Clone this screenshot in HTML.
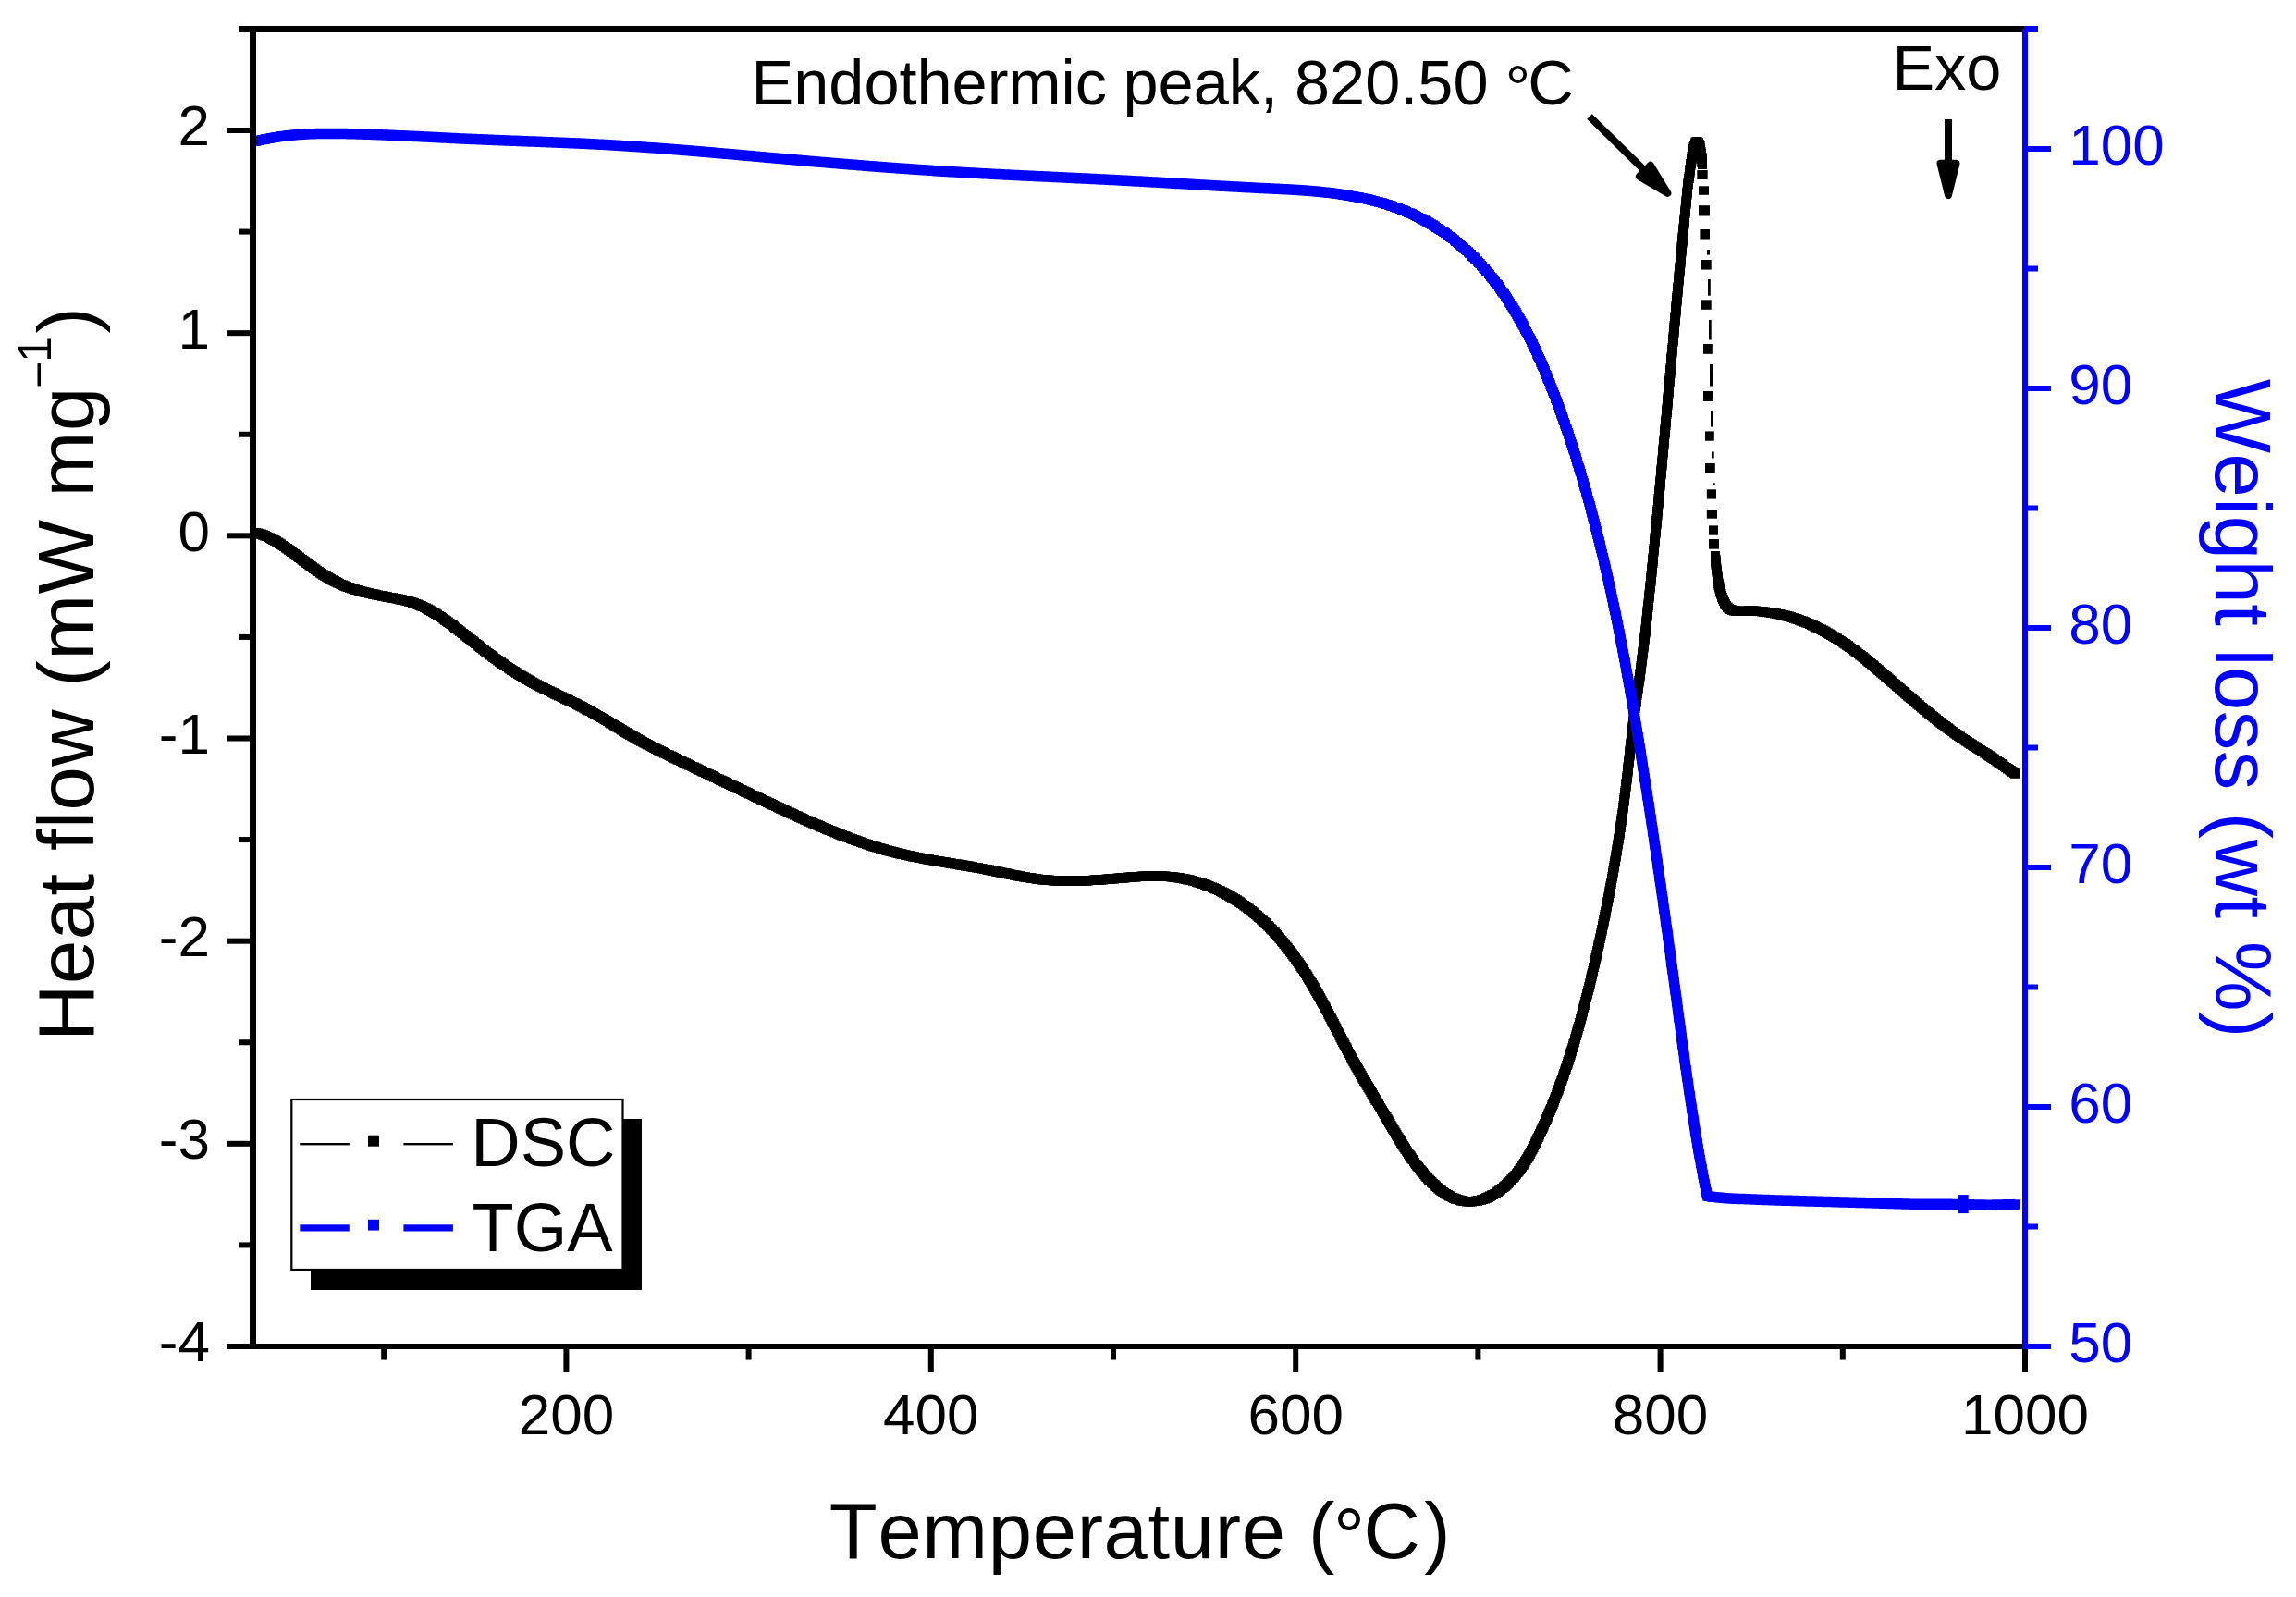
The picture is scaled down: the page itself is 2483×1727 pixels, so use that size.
<!DOCTYPE html>
<html lang="en"><head><meta charset="utf-8"><title>DSC / TGA</title>
<style>html,body{margin:0;padding:0;background:#fff}body{width:2483px;height:1727px;overflow:hidden}svg{display:block}text{font-family:"Liberation Sans",Arial,Helvetica,sans-serif;font-kerning:none}</style>
</head><body>
<svg width="2483" height="1727" viewBox="0 0 2483 1727">
<rect width="2483" height="1727" fill="#fff"/>
<defs>
<marker id="mk" markerUnits="userSpaceOnUse" markerWidth="10.6" markerHeight="10.6" refX="5.3" refY="5.3" orient="0"><rect width="10.6" height="10.6" fill="#000"/></marker>
<marker id="mb" markerUnits="userSpaceOnUse" markerWidth="10.4" markerHeight="10.4" refX="5.2" refY="5.2" orient="0"><rect width="10.4" height="10.4" fill="#0000ff"/></marker>
</defs>
<polyline points="277,576 279,576.75 280.75,577.25 282.75,577.75 284.5,578.5 286.5,579.25 288.25,580 290,581 292,581.75 293.75,582.75 295.5,583.75 297.25,584.5 299,585.5 300.75,586.75 302.25,587.75 304,588.75 305.75,590 307.25,591 309,592.25 310.75,593.25 312.25,594.5 314,595.5 315.5,596.75 317,598 318.75,599.25 320.25,600.5 322,601.5 323.5,602.75 325,604 326.75,605.25 328.25,606.5 330,607.5 331.5,608.75 333,610 334.75,611.25 336.25,612.25 338,613.5 339.5,614.75 341.25,615.75 342.75,617 344.5,618 346.25,619.25 347.75,620.25 349.5,621.5 351.25,622.5 353,623.5 354.75,624.5 356.25,625.5 358,626.5 359.75,627.5 361.75,628.5 363.5,629.25 365.25,630.25 367,631 368.75,632 370.75,632.75 372.5,633.5 374.5,634.25 376.25,635 378.25,635.5 380,636.25 382,636.75 383.75,637.5 385.75,638 387.75,638.5 389.5,639.25 391.5,639.75 393.5,640.25 395.5,640.75 397.25,641 399.25,641.5 401.25,642 403.25,642.5 405.25,642.75 407,643.25 409,643.75 411,644 413,644.5 415,644.75 417,645.25 419,645.5 420.75,646 422.75,646.25 424.75,646.5 426.75,647 428.75,647.25 430.75,647.75 432.5,648.25 434.5,648.5 436.5,649 438.5,649.5 440.5,650 442.25,650.5 444.25,651 446.25,651.75 448,652.25 450,653 451.75,653.75 453.75,654.5 455.5,655.25 457.25,656 459,657 461,657.75 462.75,658.75 464.5,659.75 466.25,660.75 468,661.75 469.75,662.75 471.25,663.75 473,664.75 474.75,666 476.5,667 478,668 479.75,669.25 481.25,670.5 483,671.5 484.5,672.75 486.25,674 487.75,675 489.5,676.25 491,677.5 492.5,678.75 494.25,680 495.75,681.25 497.25,682.5 499,683.75 500.5,685 502,686 503.5,687.25 505.25,688.5 506.75,689.75 508.25,691 509.75,692.25 511.5,693.5 513,694.75 514.5,696 516.25,697.25 517.75,698.5 519.25,699.75 520.75,701 522.5,702.25 524,703.5 525.5,704.75 527.25,706 528.75,707 530.25,708.25 532,709.5 533.5,710.75 535.25,712 536.75,713 538.5,714.25 540,715.5 541.75,716.5 543.25,717.75 545,718.75 546.5,720 548.25,721 550,722.25 551.5,723.25 553.25,724.5 555,725.5 556.75,726.5 558.25,727.5 560,728.75 561.75,729.75 563.5,730.75 565.25,731.75 567,732.75 568.5,733.75 570.25,734.75 572,735.75 573.75,736.75 575.5,737.75 577.25,738.75 579,739.75 580.75,740.5 582.5,741.5 584.5,742.5 586.25,743.25 588,744.25 589.75,745.25 591.5,746 593.25,747 595,747.75 597,748.75 598.75,749.5 600.5,750.5 602.25,751.25 604.25,752.25 606,753 607.75,753.75 609.5,754.75 611.25,755.5 613.25,756.5 615,757.25 616.75,758.25 618.5,759 620.5,760 622.25,760.75 624,761.75 625.75,762.5 627.5,763.5 629.25,764.25 631,765.25 632.75,766.25 634.5,767.25 636.5,768.25 638.25,769 640,770 641.5,771 643.25,772 645,773 646.75,774 648.5,775 650.25,776 652,777 653.75,778 655.5,779 657.25,780 659,781.25 660.5,782.25 662.25,783.25 664,784.25 665.75,785.25 667.5,786.25 669.25,787.25 671,788.25 672.5,789.25 674.25,790.5 676,791.5 677.75,792.5 679.5,793.5 681.25,794.5 683,795.5 684.75,796.5 686.5,797.5 688,798.5 689.75,799.5 691.5,800.5 693.25,801.5 695,802.25 696.75,803.25 698.75,804.25 700.5,805.25 702.25,806.25 704,807 705.75,808 707.5,808.75 709.25,809.75 711,810.75 712.75,811.5 714.75,812.5 716.5,813.25 718.25,814.25 720,815 721.75,816 723.75,816.75 725.5,817.75 727.25,818.5 729,819.5 730.75,820.25 732.75,821.25 734.5,822 736.25,823 738,823.75 739.75,824.75 741.75,825.5 743.5,826.5 745.25,827.25 747,828 748.75,829 750.75,829.75 752.5,830.75 754.25,831.5 756,832.5 758,833.25 759.75,834.25 761.5,835 763.25,836 765,836.75 767,837.5 768.75,838.5 770.5,839.25 772.25,840.25 774,841 776,842 777.75,842.75 779.5,843.75 781.25,844.5 783.25,845.25 785,846.25 786.75,847 788.5,848 790.25,848.75 792.25,849.75 794,850.5 795.75,851.25 797.5,852.25 799.5,853 801.25,854 803,854.75 804.75,855.75 806.5,856.5 808.5,857.25 810.25,858.25 812,859 813.75,860 815.75,860.75 817.5,861.75 819.25,862.5 821,863.25 823,864.25 824.75,865 826.5,866 828.25,866.75 830,867.75 832,868.5 833.75,869.25 835.5,870.25 837.25,871 839.25,872 841,872.75 842.75,873.5 844.5,874.5 846.5,875.25 848.25,876.25 850,877 851.75,877.75 853.75,878.75 855.5,879.5 857.25,880.25 859,881.25 861,882 862.75,882.75 864.5,883.75 866.5,884.5 868.25,885.25 870,886.25 871.75,887 873.75,887.75 875.5,888.5 877.25,889.25 879.25,890.25 881,891 882.75,891.75 884.75,892.5 886.5,893.25 888.25,894.25 890.25,895 892,895.75 894,896.5 895.75,897.25 897.5,898 899.5,898.75 901.25,899.5 903.25,900.25 905,901 906.75,901.75 908.75,902.5 910.5,903.25 912.5,904 914.25,904.5 916.25,905.25 918,906 920,906.75 921.75,907.5 923.75,908 925.5,908.75 927.5,909.5 929.25,910 931.25,910.75 933,911.5 935,912 937,912.75 938.75,913.25 940.75,914 942.5,914.5 944.5,915.25 946.5,915.75 948.25,916.25 950.25,917 952.25,917.5 954,918 956,918.5 958,919.25 959.75,919.75 961.75,920.25 963.75,920.75 965.75,921.25 967.5,921.75 969.5,922.25 971.5,922.75 973.5,923.25 975.25,923.5 977.25,924 979.25,924.5 981.25,925 983.25,925.25 985,925.75 987,926.25 989,926.5 991,927 993,927.25 995,927.75 997,928 998.75,928.5 1000.75,928.75 1002.75,929.25 1004.75,929.5 1006.75,930 1008.75,930.25 1010.75,930.5 1012.75,931 1014.5,931.25 1016.5,931.5 1018.5,932 1020.5,932.25 1022.5,932.5 1024.5,933 1026.5,933.25 1028.5,933.5 1030.5,934 1032.25,934.25 1034.25,934.5 1036.25,934.75 1038.25,935.25 1040.25,935.5 1042.25,935.75 1044.25,936.25 1046.25,936.5 1048.25,936.75 1050,937.25 1052,937.5 1054,938 1056,938.25 1058,938.5 1060,939 1062,939.25 1064,939.75 1065.75,940 1067.75,940.5 1069.75,940.75 1071.75,941.25 1073.75,941.75 1075.75,942 1077.5,942.5 1079.5,942.75 1081.5,943.25 1083.5,943.75 1085.5,944 1087.5,944.5 1089.25,944.75 1091.25,945.25 1093.25,945.75 1095.25,946 1097.25,946.5 1099.25,946.75 1101.25,947.25 1103,947.5 1105,948 1107,948.25 1109,948.5 1111,949 1113,949.25 1115,949.5 1117,949.75 1119,950 1120.75,950.5 1122.75,950.75 1124.75,951 1126.75,951.25 1128.75,951.25 1130.75,951.5 1132.75,951.75 1134.75,951.75 1136.75,952 1138.75,952.25 1140.75,952.25 1142.75,952.25 1144.75,952.5 1146.75,952.5 1148.75,952.5 1150.75,952.5 1152.75,952.75 1154.75,952.75 1156.75,952.75 1158.75,952.75 1160.75,952.75 1162.75,952.5 1164.75,952.5 1166.75,952.5 1168.75,952.5 1170.75,952.5 1172.75,952.25 1174.75,952.25 1176.75,952.25 1178.75,952 1180.75,952 1182.75,951.75 1184.75,951.75 1186.75,951.5 1188.75,951.5 1190.75,951.25 1192.75,951.25 1194.75,951 1196.75,950.75 1198.75,950.75 1200.75,950.5 1202.75,950.25 1204.75,950.25 1206.75,950 1208.75,949.75 1210.75,949.75 1212.75,949.5 1214.75,949.25 1216.5,949.25 1218.5,949 1220.5,948.75 1222.5,948.75 1224.5,948.5 1226.5,948.25 1228.5,948.25 1230.5,948 1232.5,948 1234.5,947.75 1236.5,947.75 1238.5,947.75 1240.5,947.5 1242.5,947.5 1244.5,947.5 1246.5,947.5 1248.5,947.5 1250.5,947.5 1252.5,947.5 1254.5,947.5 1256.5,947.5 1258.5,947.75 1260.5,947.75 1262.5,948 1264.5,948 1266.5,948.25 1268.5,948.5 1270.5,948.75 1272.5,949 1274.5,949.25 1276.5,949.5 1278.5,950 1280.25,950.25 1282.25,950.75 1284.25,951.25 1286.25,951.5 1288.25,952 1290,952.5 1292,953 1294,953.75 1295.75,954.25 1297.75,954.75 1299.75,955.5 1301.5,956 1303.5,956.75 1305.25,957.5 1307.25,958.25 1309,959 1311,959.75 1312.75,960.5 1314.5,961.25 1316.5,962 1318.25,963 1320,963.75 1321.75,964.75 1323.5,965.5 1325.25,966.5 1327.25,967.5 1329,968.5 1330.5,969.5 1332.25,970.5 1334,971.5 1335.75,972.5 1337.5,973.5 1339.25,974.75 1340.75,975.75 1342.5,976.75 1344,978 1345.75,979.25 1347.25,980.25 1349,981.5 1350.5,982.75 1352,984 1353.75,985.25 1355.25,986.5 1356.75,987.75 1358.25,989 1359.75,990.25 1361.25,991.75 1362.75,993 1364.25,994.25 1365.75,995.75 1367.25,997 1368.75,998.5 1370,1000 1371.5,1001.25 1373,1002.75 1374.25,1004.25 1375.75,1005.5 1377,1007 1378.5,1008.5 1379.75,1010 1381,1011.5 1382.5,1013 1383.75,1014.5 1385,1016 1386.25,1017.5 1387.5,1019 1388.75,1020.75 1390,1022.25 1391.25,1023.75 1392.5,1025.25 1393.75,1027 1395,1028.5 1396.25,1030 1397.5,1031.75 1398.5,1033.25 1399.75,1035 1401,1036.5 1402,1038.25 1403.25,1039.75 1404.5,1041.5 1405.5,1043 1406.75,1044.75 1407.75,1046.5 1409,1048 1410,1049.75 1411,1051.5 1412.25,1053 1413.25,1054.75 1414.25,1056.5 1415.25,1058.25 1416.25,1060 1417.5,1061.5 1418.5,1063.25 1419.5,1065 1420.5,1066.75 1421.5,1068.5 1422.5,1070.25 1423.5,1072 1424.5,1073.75 1425.5,1075.5 1426.5,1077.25 1427.5,1079 1428.25,1080.75 1429.25,1082.5 1430.25,1084.25 1431.25,1086 1432.25,1087.75 1433.25,1089.5 1434,1091.25 1435,1093 1436,1094.75 1436.75,1096.5 1437.75,1098.25 1438.75,1100 1439.75,1101.75 1440.5,1103.5 1441.5,1105.5 1442.5,1107.25 1443.25,1109 1444.25,1110.75 1445.25,1112.5 1446,1114.25 1447,1116 1448,1117.75 1448.75,1119.5 1449.75,1121.5 1450.75,1123.25 1451.5,1125 1452.5,1126.75 1453.5,1128.5 1454.25,1130.25 1455.25,1132 1456.25,1133.75 1457,1135.5 1458,1137.25 1459,1139 1460,1141 1461,1142.75 1461.75,1144.5 1462.75,1146.25 1463.75,1148 1464.75,1149.75 1465.75,1151.5 1466.75,1153.25 1467.75,1155 1468.75,1156.75 1469.5,1158.25 1470.5,1160 1471.5,1161.75 1472.5,1163.5 1473.5,1165.25 1474.5,1167 1475.5,1168.75 1476.75,1170.5 1477.75,1172.25 1478.75,1174 1479.75,1175.75 1480.75,1177.25 1481.75,1179 1482.75,1180.75 1483.75,1182.5 1484.75,1184.25 1485.75,1186 1486.75,1187.75 1487.75,1189.5 1489,1191 1490,1192.75 1491,1194.5 1492,1196.25 1493,1198 1494,1199.75 1495,1201.5 1496,1203.25 1497,1204.75 1498,1206.5 1499.25,1208.25 1500.25,1210 1501.25,1211.75 1502.25,1213.5 1503.25,1215.25 1504.25,1217 1505.25,1218.75 1506.25,1220.25 1507.25,1222 1508.25,1223.75 1509.25,1225.5 1510.25,1227.25 1511.25,1229 1512.5,1230.75 1513.5,1232.25 1514.5,1234 1515.5,1235.75 1516.5,1237.5 1517.75,1239.25 1518.75,1240.75 1519.75,1242.5 1521,1244.25 1522,1245.75 1523.25,1247.5 1524.25,1249.25 1525.5,1250.75 1526.5,1252.5 1527.75,1254 1529,1255.75 1530,1257.25 1531.25,1259 1532.5,1260.5 1533.75,1262 1535,1263.75 1536.25,1265.25 1537.5,1266.75 1538.75,1268.25 1540,1269.75 1541.5,1271.25 1542.75,1272.75 1544,1274.25 1545.5,1275.75 1547,1277 1548.25,1278.5 1549.75,1280 1551.25,1281.25 1552.75,1282.75 1554.25,1284 1555.75,1285.25 1557.25,1286.5 1558.75,1287.75 1560.5,1289 1562,1290 1563.75,1291.25 1565.5,1292.25 1567.25,1293.25 1569,1294 1570.75,1295 1572.5,1295.75 1574.5,1296.5 1576.25,1297 1578.25,1297.75 1580.25,1298.25 1582.25,1298.5 1584.25,1299 1586,1299.25 1588,1299.25 1590,1299.25 1592,1299.25 1594,1299 1596,1298.75 1598,1298.5 1600,1298 1602,1297.5 1603.75,1297 1605.75,1296.25 1607.5,1295.5 1609.5,1294.75 1611.25,1293.75 1613,1292.75 1614.75,1292 1616.5,1291 1618,1289.75 1619.75,1288.75 1621.5,1287.5 1623,1286.25 1624.5,1285 1626.25,1283.75 1627.75,1282.5 1629.25,1281.25 1630.5,1279.75 1632,1278.5 1633.5,1277 1634.75,1275.5 1636.25,1274 1637.5,1272.5 1638.75,1271 1640,1269.5 1641.25,1268 1642.5,1266.25 1643.75,1264.75 1645,1263.25 1646,1261.5 1647.25,1259.75 1648.25,1258.25 1649.25,1256.5 1650.25,1254.75 1651.5,1253 1652.5,1251.25 1653.5,1249.5 1654.5,1247.75 1655.25,1246 1656.25,1244.25 1657.25,1242.5 1658.25,1240.75 1659,1239 1660,1237.25 1660.75,1235.5 1661.75,1233.75 1662.5,1231.75 1663.5,1230 1664.25,1228.25 1665,1226.5 1666,1224.5 1666.75,1222.75 1667.75,1221 1668.5,1219.25 1669.25,1217.25 1670,1215.5 1671,1213.75 1671.75,1211.75 1672.5,1210 1673.25,1208.25 1674,1206.25 1674.75,1204.5 1675.75,1202.75 1676.5,1200.75 1677.25,1199 1678,1197 1678.75,1195.25 1679.5,1193.5 1680.25,1191.5 1681,1189.75 1681.75,1187.75 1682.25,1186 1683,1184 1683.75,1182.25 1684.5,1180.25 1685.25,1178.5 1686,1176.5 1686.5,1174.75 1687.25,1172.75 1688,1171 1688.75,1169 1689.25,1167.25 1690,1165.25 1690.75,1163.5 1691.25,1161.5 1692,1159.75 1692.75,1157.75 1693.25,1155.75 1694,1154 1694.5,1152 1695.25,1150.25 1695.75,1148.25 1696.5,1146.5 1697,1144.5 1697.75,1142.5 1698.25,1140.75 1698.75,1138.75 1699.5,1136.75 1700,1135 1700.75,1133 1701.25,1131 1701.75,1129.25 1702.5,1127.25 1703,1125.5 1703.5,1123.5 1704,1121.5 1704.75,1119.5 1705.25,1117.75 1705.75,1115.75 1706.25,1113.75 1706.75,1112 1707.5,1110 1708,1108 1708.5,1106.25 1709,1104.25 1709.5,1102.25 1710,1100.25 1710.5,1098.5 1711,1096.5 1711.5,1094.5 1712,1092.75 1712.5,1090.75 1713,1088.75 1713.5,1086.75 1714,1085 1714.5,1083 1715,1081 1715.5,1079 1716,1077.25 1716.5,1075.25 1717,1073.25 1717.5,1071.25 1718,1069.5 1718.5,1067.5 1719,1065.5 1719.5,1063.5 1720,1061.5 1720.25,1059.75 1720.75,1057.75 1721.25,1055.75 1721.75,1053.75 1722.25,1052 1722.75,1050 1723,1048 1723.5,1046 1724,1044 1724.5,1042.25 1724.75,1040.25 1725.25,1038.25 1725.75,1036.25 1726.25,1034.25 1726.5,1032.5 1727,1030.5 1727.5,1028.5 1728,1026.5 1728.25,1024.5 1728.75,1022.5 1729.25,1020.75 1729.75,1018.75 1730,1016.75 1730.5,1014.75 1731,1012.75 1731.25,1011 1731.75,1009 1732.25,1007 1732.5,1005 1733,1003 1733.25,1001 1733.75,999.25 1734.25,997.25 1734.5,995.25 1735,993.25 1735.5,991.25 1735.75,989.25 1736.25,987.5 1736.5,985.5 1737,983.5 1737.25,981.5 1737.75,979.5 1738,977.5 1738.5,975.5 1739,973.75 1739.25,971.75 1739.75,969.75 1740,967.75 1740.5,965.75 1740.75,963.75 1741,962 1741.5,960 1741.75,958 1742.25,956 1742.5,954 1743,952 1743.25,950 1743.75,948 1744,946.25 1744.25,944.25 1744.75,942.25 1745,940.25 1745.5,938.25 1745.75,936.25 1746,934.25 1746.5,932.25 1746.75,930.5 1747,928.5 1747.5,926.5 1747.75,924.5 1748,922.5 1748.5,920.5 1748.75,918.5 1749,916.5 1749.25,914.5 1749.75,912.5 1750,910.75 1750.25,908.75 1750.5,906.75 1751,904.75 1751.25,902.75 1751.5,900.75 1751.75,898.75 1752,896.75 1752.5,894.75 1752.75,892.75 1753,891 1753.25,889 1753.5,887 1753.75,885 1754.25,883 1754.5,881 1754.75,879 1755,877 1755.25,875 1755.5,873 1755.75,871 1756,869 1756.25,867 1756.5,865.25 1756.75,863.25 1757,861.25 1757.25,859.25 1757.5,857.25 1757.75,855.25 1758,853.25 1758.25,851.25 1758.5,849.25 1758.75,847.25 1759,845.25 1759.25,843.25 1759.5,841.25 1759.75,839.25 1760,837.25 1760.25,835.25 1760.5,833.25 1760.5,831.5 1760.75,829.5 1761,827.5 1761.25,825.5 1761.5,823.5 1761.75,821.5 1762,819.5 1762.25,817.5 1762.5,815.5 1762.5,813.5 1762.75,811.5 1763,809.5 1763.25,807.5 1763.5,805.5 1763.75,803.5 1764,801.5 1764.25,799.5 1764.5,797.5 1764.75,795.5 1764.75,793.75 1765,791.75 1765.25,789.75 1765.5,787.75 1765.75,785.75 1766,783.75 1766.25,781.75 1766.5,779.75 1766.75,777.75 1767,775.75 1767.25,773.75 1767.5,771.75 1767.75,769.75 1768,767.75 1768.25,765.75 1768.75,763.75 1769,762 1769.25,760 1769.5,758 1769.75,756 1770,754 1770.25,752 1770.5,750 1771,748 1771.25,746 1771.5,744 1771.75,742 1772,740 1772.25,738.25 1772.5,736.25 1773,734.25 1773.25,732.25 1773.5,730.25 1773.75,728.25 1774,726.25 1774.25,724.25 1774.5,722.25 1774.75,720.25 1775,718.25 1775.25,716.25 1775.5,714.25 1775.75,712.5 1776,710.5 1776.25,708.5 1776.5,706.5 1776.75,704.5 1777,702.5 1777.25,700.5 1777.5,698.5 1777.75,696.5 1778,694.5 1778.25,692.5 1778.5,690.5 1778.75,688.5 1779,686.5 1779.25,684.5 1779.5,682.5 1779.75,680.5 1780,678.75 1780,676.75 1780.25,674.75 1780.5,672.75 1780.75,670.75 1781,668.75 1781.25,666.75 1781.5,664.75 1781.75,662.75 1781.75,660.75 1782,658.75 1782.25,656.75 1782.5,654.75 1782.75,652.75 1783,650.75 1783,648.75 1783.25,646.75 1783.5,644.75 1783.75,642.75 1784,640.75 1784,638.75 1784.25,637 1784.5,635 1784.75,633 1785,631 1785.25,629 1785.25,627 1785.5,625 1785.75,623 1786,621 1786.25,619 1786.25,617 1786.5,615 1786.75,613 1787,611 1787.25,609 1787.25,607 1787.5,605 1787.75,603 1788,601 1788,599 1788.25,597 1788.5,595 1788.75,593 1789,591 1789,589 1789.25,587.25 1789.5,585.25 1789.75,583.25 1789.75,581.25 1790,579.25 1790.25,577.25 1790.5,575.25 1790.75,573.25 1790.75,571.25 1791,569.25 1791.25,567.25 1791.5,565.25 1791.5,563.25 1791.75,561.25 1792,559.25 1792.25,557.25 1792.25,555.25 1792.5,553.25 1792.75,551.25 1793,549.25 1793,547.25 1793.25,545.25 1793.5,543.25 1793.75,541.25 1793.75,539.25 1794,537.25 1794.25,535.5 1794.5,533.5 1794.5,531.5 1794.75,529.5 1795,527.5 1795.25,525.5 1795.25,523.5 1795.5,521.5 1795.75,519.5 1796,517.5 1796,515.5 1796.25,513.5 1796.5,511.5 1796.5,509.5 1796.75,507.5 1797,505.5 1797.25,503.5 1797.25,501.5 1797.5,499.5 1797.75,497.5 1798,495.5 1798,493.5 1798.25,491.5 1798.5,489.5 1798.5,487.5 1798.75,485.5 1799,483.5 1799.25,481.5 1799.25,479.75 1799.5,477.75 1799.75,475.75 1800,473.75 1800,471.75 1800.25,469.75 1800.5,467.75 1800.5,465.75 1800.75,463.75 1801,461.75 1801.25,459.75 1801.25,457.75 1801.5,455.75 1801.75,453.75 1802,451.75 1802,449.75 1802.25,447.75 1802.5,445.75 1802.5,443.75 1802.75,441.75 1803,439.75 1803.25,437.75 1803.25,435.75 1803.5,433.75 1803.75,431.75 1803.75,429.75 1804,427.75 1804.25,425.75 1804.5,423.75 1804.5,421.75 1804.75,420 1805,418 1805,416 1805.25,414 1805.5,412 1805.75,410 1805.75,408 1806,406 1806.25,404 1806.25,402 1806.5,400 1806.75,398 1807,396 1807,394 1807.25,392 1807.5,390 1807.5,388 1807.75,386 1808,384 1808.25,382 1808.25,380 1808.5,378 1808.75,376 1809,374 1809,372 1809.25,370 1809.5,368 1809.5,366 1809.75,364 1810,362.25 1810.25,360.25 1810.25,358.25 1810.5,356.25 1810.75,354.25 1810.75,352.25 1811,350.25 1811.25,348.25 1811.5,346.25 1811.5,344.25 1811.75,342.25 1812,340.25 1812.25,338.25 1812.25,336.25 1812.5,334.25 1812.75,332.25 1812.75,330.25 1813,328.25 1813.25,326.25 1813.5,324.25 1813.5,322.25 1813.75,320.25 1814,318.25 1814.25,316.25 1814.25,314.25 1814.5,312.25 1814.75,310.25 1815,308.25 1815,306.5 1815.25,304.5 1815.5,302.5 1815.75,300.5 1815.75,298.5 1816,296.5 1816.25,294.5 1816.5,292.5 1816.5,290.5 1816.75,288.5 1817,286.5 1817.25,284.5 1817.25,282.5 1817.5,280.5 1817.75,278.5 1818,276.5 1818,274.5 1818.25,272.5 1818.5,270.5 1818.75,268.5 1818.75,266.5 1819,264.5 1819.25,262.5 1819.5,260.5 1819.5,258.5 1819.75,256.5 1820,254.5 1820.25,252.75 1820.25,250.75 1820.5,248.75 1820.75,246.75 1821,244.75 1821.25,242.75 1821.25,240.75 1821.5,238.75 1821.75,236.75 1822,234.75 1822,232.75 1822.25,230.75 1822.5,228.75 1822.75,226.75 1823,224.75 1823,222.75 1823.25,220.75 1823.5,218.75 1823.75,216.75 1824,214.75 1824,212.75 1824.25,210.75 1824.5,208.75 1824.75,206.75 1825,204.75 1825,203 1825.25,201 1825.5,199 1825.75,197 1826,195 1826.5,193 1826.75,191 1827,189 1827.25,187 1827.5,185 1827.75,183 1828,181 1828.25,179 1828.5,177 1829,175.25 1829.25,173.25 1829.5,171.25 1829.75,169.25 1830,167.25 1830.5,165.25 1830.75,163.25 1831.25,161.25 1831.75,159.5 1832.25,157.5 1833,155.75 1833.75,153.75 1835.25,153.25 1836.75,154.5 1837.5,156.25 1838.25,158.25 1838.5,160.25 1839,162.25 1839.25,164 1839.75,166 1840,168 1840.25,170 1840.5,172 1840.75,174 1840.75,176 1841,178" fill="none" stroke="#000" stroke-width="10" stroke-linejoin="round" marker-start="url(#mk)" marker-mid="url(#mk)" marker-end="url(#mk)"/>
<polyline points="1855,601 1855,603 1855.25,605 1855.5,606.75 1855.75,608.75 1855.75,610.75 1856,612.75 1856.25,614.75 1856.5,616.75 1856.75,618.75 1857,620.75 1857.25,622.75 1857.5,624.75 1857.75,626.75 1858,628.75 1858.5,630.75 1858.75,632.75 1859.25,634.5 1859.75,636.5 1860.25,638.5 1860.75,640.5 1861.25,642.25 1862,644.25 1862.5,646 1863.25,648 1864,649.75 1865,651.5 1865.75,653.5 1867,655 1868.25,656.75 1869.75,658 1871.25,659 1873.25,659.75 1875.25,660.25 1877,660.5 1879,660.75 1881,661 1883,661 1885,661 1887,660.75 1889,660.75 1891,660.75 1893,660.75 1895,660.75 1897,660.75 1899,660.75 1901,661 1903,661 1905,661.25 1907,661.5 1909,661.75 1911,662 1913,662.25 1915,662.5 1917,662.75 1919,663.25 1921,663.5 1922.75,664 1924.75,664.25 1926.75,664.75 1928.75,665.25 1930.75,665.75 1932.5,666.25 1934.5,666.75 1936.5,667.25 1938.25,668 1940.25,668.5 1942.25,669.25 1944,669.75 1946,670.5 1947.75,671.25 1949.75,671.75 1951.5,672.5 1953.5,673.25 1955.25,674 1957,674.75 1959,675.75 1960.75,676.5 1962.5,677.25 1964.25,678.25 1966.25,679 1968,680 1969.75,680.75 1971.5,681.75 1973.25,682.75 1975,683.75 1976.75,684.75 1978.5,685.75 1980.25,686.75 1982,687.75 1983.75,688.75 1985.25,689.75 1987,690.75 1988.75,692 1990.5,693 1992,694 1993.75,695.25 1995.5,696.25 1997,697.5 1998.75,698.5 2000.25,699.75 2002,701 2003.5,702 2005.25,703.25 2006.75,704.5 2008.25,705.75 2010,707 2011.5,708.25 2013,709.25 2014.75,710.5 2016.25,711.75 2017.75,713 2019.25,714.25 2020.75,715.75 2022.5,717 2024,718.25 2025.5,719.5 2027,720.75 2028.5,722 2030,723.25 2031.5,724.5 2033,726 2034.5,727.25 2036,728.5 2037.75,729.75 2039.25,731.25 2040.75,732.5 2042.25,733.75 2043.75,735 2045.25,736.5 2046.75,737.75 2048.25,739 2049.75,740.25 2051.25,741.75 2052.75,743 2054.25,744.25 2055.75,745.75 2057.25,747 2058.75,748.25 2060.25,749.5 2061.75,751 2063.25,752.25 2064.75,753.5 2066.25,754.75 2067.75,756 2069.25,757.5 2070.75,758.75 2072.25,760 2073.75,761.25 2075.5,762.5 2077,764 2078.5,765.25 2080,766.5 2081.5,767.75 2083,769 2084.5,770.25 2086.25,771.5 2087.75,772.75 2089.25,774 2090.75,775.25 2092.25,776.5 2094,777.75 2095.5,779 2097,780.25 2098.75,781.5 2100.25,782.75 2101.75,784 2103.5,785 2105,786.25 2106.75,787.5 2108.25,788.75 2109.75,790 2111.5,791 2113,792.25 2114.75,793.25 2116.25,794.5 2118,795.75 2119.75,796.75 2121.25,798 2123,799 2124.75,800.25 2126.25,801.25 2128,802.25 2129.75,803.5 2131.25,804.5 2133,805.5 2134.75,806.75 2136.5,807.75 2138,808.75 2139.75,810 2141.5,811 2143,812 2144.75,813 2146.5,814.25 2148.25,815.25 2149.75,816.5 2151.5,817.5 2153.25,818.5 2154.75,819.75 2156.5,820.75 2158,822 2159.75,823.25 2161.5,824.25 2163,825.5 2164.75,826.5 2166.25,827.75 2168,829 2169.5,830 2171.25,831.25 2173,832.25 2174.5,833.25 2176.25,834.5 2178,835.5 2179.5,836.5" fill="none" stroke="#000" stroke-width="10" stroke-linejoin="round" marker-start="url(#mk)" marker-mid="url(#mk)" marker-end="url(#mk)"/>
<g fill="#000">
<rect x="1835.3" y="184.0" width="11.4" height="10.0"/>
<rect x="1837.0" y="201.3" width="11.0" height="9.5"/>
<rect x="1837.0" y="222.2" width="12.0" height="11.3"/>
<rect x="1838.4" y="248.0" width="10.6" height="10.5"/>
<rect x="1840.0" y="281.0" width="10.7" height="10.6"/>
<rect x="1840.0" y="324.3" width="10.7" height="10.5"/>
<rect x="1842.0" y="372.0" width="9.8" height="10.8"/>
<rect x="1842.0" y="423.0" width="11.0" height="11.0"/>
<rect x="1844.0" y="466.4" width="9.8" height="10.3"/>
<rect x="1844.0" y="501.0" width="10.8" height="10.8"/>
<rect x="1845.8" y="529.3" width="10.2" height="10.3"/>
<rect x="1845.8" y="551.0" width="11.2" height="9.7"/>
<rect x="1848.0" y="568.4" width="10.0" height="10.3"/>
<rect x="1848.0" y="583.0" width="11.0" height="10.7"/>
<rect x="1846.0" y="270.0" width="3.0" height="5.6"/>
<rect x="1847.0" y="302.0" width="2.8" height="17.7"/>
<rect x="1848.0" y="346.0" width="2.7" height="21.5"/>
<rect x="1849.0" y="394.0" width="3.3" height="23.5"/>
<rect x="1850.0" y="444.0" width="3.0" height="17.7"/>
<rect x="1851.0" y="488.4" width="2.7" height="7.1"/>
<rect x="1852.3" y="522.3" width="2.5" height="1.9"/>
</g>
<polyline points="277,152.5 279,152.25 281,151.75 283,151.25 285,150.75 286.75,150.5 288.75,150 290.75,149.75 292.75,149.25 294.75,149 296.75,148.75 298.75,148.25 300.75,148 302.5,147.75 304.5,147.5 306.5,147.25 308.5,147 310.5,146.75 312.5,146.5 314.5,146.25 316.5,146 318.5,146 320.5,145.75 322.5,145.5 324.5,145.5 326.5,145.25 328.5,145.25 330.5,145 332.5,145 334.5,144.75 336.5,144.75 338.5,144.75 340.5,144.75 342.5,144.5 344.5,144.5 346.5,144.5 348.5,144.5 350.5,144.5 352.5,144.5 354.5,144.5 356.5,144.5 358.5,144.5 360.5,144.5 362.5,144.5 364.5,144.5 366.5,144.5 368.5,144.5 370.5,144.5 372.5,144.5 374.5,144.5 376.5,144.75 378.5,144.75 380.5,144.75 382.5,144.75 384.5,144.75 386.5,145 388.5,145 390.5,145 392.5,145 394.5,145.25 396.5,145.25 398.5,145.25 400.5,145.25 402.5,145.5 404.5,145.5 406.5,145.5 408.5,145.75 410.5,145.75 412.5,145.75 414.5,146 416.5,146 418.5,146 420.5,146.25 422.5,146.25 424.5,146.25 426.5,146.5 428.5,146.5 430.5,146.5 432.5,146.75 434.5,146.75 436.5,146.75 438.5,147 440.5,147 442.25,147.25 444.25,147.25 446.25,147.25 448.25,147.5 450.25,147.5 452.25,147.5 454.25,147.75 456.25,147.75 458.25,148 460.25,148 462.25,148 464.25,148.25 466.25,148.25 468.25,148.5 470.25,148.5 472.25,148.5 474.25,148.75 476.25,148.75 478.25,149 480.25,149 482.25,149 484.25,149.25 486.25,149.25 488.25,149.5 490.25,149.5 492.25,149.5 494.25,149.75 496.25,149.75 498.25,150 500.25,150 502.25,150 504.25,150.25 506.25,150.25 508.25,150.25 510.25,150.5 512.25,150.5 514.25,150.5 516.25,150.75 518.25,150.75 520.25,150.75 522.25,151 524.25,151 526.25,151 528.25,151.25 530.25,151.25 532.25,151.25 534.25,151.5 536.25,151.5 538.25,151.5 540.25,151.75 542.25,151.75 544.25,151.75 546.25,152 548.25,152 550.25,152 552.25,152.25 554.25,152.25 556.25,152.25 558.25,152.25 560.25,152.5 562.25,152.5 564.25,152.5 566.25,152.75 568.25,152.75 570.25,152.75 572.25,153 574.25,153 576.25,153 578.25,153 580.25,153.25 582.25,153.25 584.25,153.25 586.25,153.5 588.25,153.5 590.25,153.5 592.25,153.75 594.25,153.75 596.25,153.75 598.25,154 600.25,154 602.25,154 604.25,154.25 606.25,154.25 608.25,154.25 610.25,154.5 612.25,154.5 614.25,154.5 616.25,154.75 618.25,154.75 620.25,154.75 622.25,155 624.25,155 626.25,155 628.25,155.25 630.25,155.25 632.25,155.25 634.25,155.5 636.25,155.5 638,155.75 640,155.75 642,155.75 644,156 646,156 648,156.25 650,156.25 652,156.25 654,156.5 656,156.5 658,156.75 660,156.75 662,157 664,157 666,157.25 668,157.25 670,157.5 672,157.5 674,157.75 676,157.75 678,158 680,158 682,158.25 684,158.25 686,158.5 688,158.5 690,158.75 692,158.75 694,159 696,159 698,159.25 700,159.5 702,159.5 704,159.75 706,159.75 708,160 710,160 712,160.25 714,160.5 716,160.5 718,160.75 720,160.75 722,161 724,161.25 726,161.25 728,161.5 730,161.75 732,161.75 734,162 735.75,162 737.75,162.25 739.75,162.5 741.75,162.5 743.75,162.75 745.75,163 747.75,163 749.75,163.25 751.75,163.5 753.75,163.5 755.75,163.75 757.75,164 759.75,164 761.75,164.25 763.75,164.5 765.75,164.5 767.75,164.75 769.75,165 771.75,165 773.75,165.25 775.75,165.5 777.75,165.75 779.75,165.75 781.75,166 783.75,166.25 785.75,166.25 787.75,166.5 789.75,166.75 791.75,166.75 793.75,167 795.75,167.25 797.75,167.25 799.5,167.5 801.5,167.75 803.5,168 805.5,168 807.5,168.25 809.5,168.5 811.5,168.5 813.5,168.75 815.5,169 817.5,169.25 819.5,169.25 821.5,169.5 823.5,169.75 825.5,169.75 827.5,170 829.5,170.25 831.5,170.5 833.5,170.5 835.5,170.75 837.5,171 839.5,171 841.5,171.25 843.5,171.5 845.5,171.5 847.5,171.75 849.5,172 851.5,172.25 853.5,172.25 855.5,172.5 857.5,172.75 859.25,172.75 861.25,173 863.25,173.25 865.25,173.25 867.25,173.5 869.25,173.75 871.25,173.75 873.25,174 875.25,174.25 877.25,174.5 879.25,174.5 881.25,174.75 883.25,175 885.25,175 887.25,175.25 889.25,175.5 891.25,175.5 893.25,175.75 895.25,176 897.25,176 899.25,176.25 901.25,176.5 903.25,176.5 905.25,176.75 907.25,177 909.25,177 911.25,177.25 913.25,177.5 915.25,177.5 917.25,177.75 919.25,178 921.25,178 923,178.25 925,178.25 927,178.5 929,178.75 931,178.75 933,179 935,179.25 937,179.25 939,179.5 941,179.75 943,179.75 945,180 947,180 949,180.25 951,180.5 953,180.5 955,180.75 957,180.75 959,181 961,181.25 963,181.25 965,181.5 967,181.5 969,181.75 971,182 973,182 975,182.25 977,182.25 979,182.5 981,182.5 983,182.75 985,183 987,183 989,183.25 991,183.25 993,183.5 995,183.5 997,183.75 999,183.75 1001,184 1003,184 1004.75,184.25 1006.75,184.25 1008.75,184.5 1010.75,184.75 1012.75,184.75 1014.75,185 1016.75,185 1018.75,185.25 1020.75,185.25 1022.75,185.5 1024.75,185.5 1026.75,185.75 1028.75,185.75 1030.75,185.75 1032.75,186 1034.75,186 1036.75,186.25 1038.75,186.25 1040.75,186.5 1042.75,186.5 1044.75,186.75 1046.75,186.75 1048.75,187 1050.75,187 1052.75,187 1054.75,187.25 1056.75,187.25 1058.75,187.5 1060.75,187.5 1062.75,187.75 1064.75,187.75 1066.75,187.75 1068.75,188 1070.75,188 1072.75,188.25 1074.75,188.25 1076.75,188.5 1078.75,188.5 1080.75,188.5 1082.75,188.75 1084.75,188.75 1086.75,189 1088.75,189 1090.75,189 1092.75,189.25 1094.75,189.25 1096.75,189.5 1098.75,189.5 1100.75,189.5 1102.75,189.75 1104.75,189.75 1106.75,190 1108.75,190 1110.75,190 1112.75,190.25 1114.75,190.25 1116.75,190.25 1118.75,190.5 1120.75,190.5 1122.75,190.75 1124.75,190.75 1126.75,190.75 1128.75,191 1130.75,191 1132.75,191 1134.75,191.25 1136.75,191.25 1138.75,191.5 1140.75,191.5 1142.75,191.5 1144.75,191.75 1146.5,191.75 1148.5,191.75 1150.5,192 1152.5,192 1154.5,192.25 1156.5,192.25 1158.5,192.25 1160.5,192.5 1162.5,192.5 1164.5,192.75 1166.5,192.75 1168.5,192.75 1170.5,193 1172.5,193 1174.5,193 1176.5,193.25 1178.5,193.25 1180.5,193.5 1182.5,193.5 1184.5,193.5 1186.5,193.75 1188.5,193.75 1190.5,194 1192.5,194 1194.5,194 1196.5,194.25 1198.5,194.25 1200.5,194.5 1202.5,194.5 1204.5,194.5 1206.5,194.75 1208.5,194.75 1210.5,195 1212.5,195 1214.5,195.25 1216.5,195.25 1218.5,195.25 1220.5,195.5 1222.5,195.5 1224.5,195.75 1226.5,195.75 1228.5,196 1230.5,196 1232.5,196 1234.5,196.25 1236.5,196.25 1238.5,196.5 1240.5,196.5 1242.5,196.75 1244.5,196.75 1246.5,197 1248.5,197 1250.5,197 1252.5,197.25 1254.5,197.25 1256.5,197.5 1258.5,197.5 1260.5,197.75 1262.5,197.75 1264.5,198 1266.5,198 1268.5,198.25 1270.5,198.25 1272.5,198.5 1274.5,198.5 1276.5,198.5 1278.5,198.75 1280.5,198.75 1282.5,199 1284.5,199 1286.5,199.25 1288.5,199.25 1290.25,199.5 1292.25,199.5 1294.25,199.75 1296.25,199.75 1298.25,200 1300.25,200 1302.25,200 1304.25,200.25 1306.25,200.25 1308.25,200.5 1310.25,200.5 1312.25,200.75 1314.25,200.75 1316.25,201 1318.25,201 1320.25,201.25 1322.25,201.25 1324.25,201.25 1326.25,201.5 1328.25,201.5 1330.25,201.75 1332.25,201.75 1334.25,202 1336.25,202 1338.25,202 1340.25,202.25 1342.25,202.25 1344.25,202.5 1346.25,202.5 1348.25,202.75 1350.25,202.75 1352.25,202.75 1354.25,203 1356.25,203 1358.25,203.25 1360.25,203.25 1362.25,203.5 1364.25,203.5 1366.25,203.5 1368.25,203.75 1370.25,203.75 1372.25,203.75 1374.25,204 1376.25,204 1378.25,204.25 1380.25,204.25 1382.25,204.25 1384.25,204.5 1386.25,204.5 1388.25,204.75 1390.25,204.75 1392.25,204.75 1394.25,205 1396.25,205 1398.25,205.25 1400.25,205.25 1402.25,205.5 1404.25,205.5 1406.25,205.75 1408.25,205.75 1410.25,206 1412.25,206 1414.25,206.25 1416.25,206.5 1418.25,206.5 1420,206.75 1422,207 1424,207 1426,207.25 1428,207.5 1430,207.75 1432,208 1434,208.25 1436,208.25 1438,208.5 1440,208.75 1442,209 1444,209.25 1446,209.5 1448,210 1450,210.25 1452,210.5 1453.75,210.75 1455.75,211 1457.75,211.5 1459.75,211.75 1461.75,212 1463.75,212.5 1465.75,212.75 1467.75,213.25 1469.5,213.5 1471.5,214 1473.5,214.25 1475.5,214.75 1477.5,215.25 1479.5,215.5 1481.25,216 1483.25,216.5 1485.25,217 1487.25,217.5 1489,218 1491,218.5 1493,219 1495,219.5 1496.75,220.25 1498.75,220.75 1500.5,221.25 1502.5,222 1504.5,222.5 1506.25,223.25 1508.25,223.75 1510,224.5 1512,225.25 1513.75,226 1515.75,226.75 1517.5,227.25 1519.5,228 1521.25,229 1523,229.75 1525,230.5 1526.75,231.25 1528.5,232.25 1530.5,233 1532.25,234 1534,234.75 1535.75,235.75 1537.5,236.5 1539.25,237.5 1541,238.5 1542.75,239.5 1544.5,240.5 1546.25,241.5 1548,242.5 1549.75,243.5 1551.5,244.5 1553,245.75 1554.75,246.75 1556.5,247.75 1558,249 1559.75,250 1561.5,251.25 1563,252.25 1564.75,253.5 1566.25,254.75 1568,255.75 1569.5,257 1571,258.25 1572.75,259.5 1574.25,260.75 1575.75,262 1577.25,263.25 1578.75,264.5 1580.25,265.75 1581.75,267.25 1583.25,268.5 1584.75,269.75 1586.25,271.25 1587.75,272.5 1589.25,274 1590.75,275.25 1592,276.75 1593.5,278 1595,279.5 1596.25,281 1597.75,282.5 1599,283.75 1600.5,285.25 1601.75,286.75 1603.25,288.25 1604.5,289.75 1605.75,291.25 1607.25,292.75 1608.5,294.25 1609.75,295.75 1611,297.25 1612.25,299 1613.5,300.5 1614.75,302 1616,303.5 1617.25,305.25 1618.5,306.75 1619.75,308.25 1620.75,310 1622,311.5 1623.25,313.25 1624.25,314.75 1625.5,316.5 1626.75,318 1627.75,319.75 1629,321.5 1630,323 1631,324.75 1632.25,326.5 1633.25,328 1634.25,329.75 1635.5,331.5 1636.5,333.25 1637.5,335 1638.5,336.5 1639.5,338.25 1640.5,340 1641.5,341.75 1642.5,343.5 1643.5,345.25 1644.5,347 1645.5,348.75 1646.5,350.5 1647.5,352.25 1648.5,354 1649.25,355.75 1650.25,357.5 1651.25,359.25 1652,361 1653,362.75 1654,364.75 1654.75,366.5 1655.75,368.25 1656.5,370 1657.5,371.75 1658.25,373.5 1659.25,375.5 1660,377.25 1660.75,379 1661.75,380.75 1662.5,382.75 1663.25,384.5 1664.25,386.25 1665,388.25 1665.75,390 1666.5,391.75 1667.5,393.75 1668.25,395.5 1669,397.25 1669.75,399.25 1670.5,401 1671.25,402.75 1672,404.75 1672.75,406.5 1673.5,408.5 1674.25,410.25 1675,412 1675.75,414 1676.5,415.75 1677.25,417.75 1678,419.5 1678.75,421.5 1679.5,423.25 1680.25,425 1681,427 1681.75,428.75 1682.25,430.75 1683,432.5 1683.75,434.5 1684.5,436.25 1685.25,438.25 1685.75,440 1686.5,442 1687.25,443.75 1688,445.75 1688.5,447.5 1689.25,449.5 1690,451.25 1690.5,453.25 1691.25,455.25 1692,457 1692.5,459 1693.25,460.75 1694,462.75 1694.5,464.5 1695.25,466.5 1695.75,468.25 1696.5,470.25 1697,472.25 1697.75,474 1698.25,476 1699,477.75 1699.5,479.75 1700.25,481.75 1700.75,483.5 1701.5,485.5 1702,487.25 1702.75,489.25 1703.25,491.25 1703.75,493 1704.5,495 1705,497 1705.5,498.75 1706.25,500.75 1706.75,502.75 1707.25,504.5 1708,506.5 1708.5,508.5 1709,510.25 1709.75,512.25 1710.25,514.25 1710.75,516 1711.25,518 1712,520 1712.5,521.75 1713,523.75 1713.5,525.75 1714.25,527.5 1714.75,529.5 1715.25,531.5 1715.75,533.25 1716.25,535.25 1716.75,537.25 1717.25,539 1718,541 1718.5,543 1719,545 1719.5,546.75 1720,548.75 1720.5,550.75 1721,552.75 1721.5,554.5 1722,556.5 1722.5,558.5 1723,560.25 1723.5,562.25 1724,564.25 1724.5,566.25 1725,568 1725.5,570 1726,572 1726.5,574 1727,575.75 1727.5,577.75 1728,579.75 1728.5,581.75 1729,583.5 1729.5,585.5 1730,587.5 1730.5,589.5 1731,591.5 1731.25,593.25 1731.75,595.25 1732.25,597.25 1732.75,599.25 1733.25,601 1733.75,603 1734.25,605 1734.5,607 1735,609 1735.5,610.75 1736,612.75 1736.5,614.75 1736.75,616.75 1737.25,618.75 1737.75,620.5 1738.25,622.5 1738.75,624.5 1739,626.5 1739.5,628.5 1740,630.25 1740.25,632.25 1740.75,634.25 1741.25,636.25 1741.75,638.25 1742,640 1742.5,642 1743,644 1743.25,646 1743.75,648 1744.25,649.75 1744.5,651.75 1745,653.75 1745.5,655.75 1745.75,657.75 1746.25,659.75 1746.75,661.5 1747,663.5 1747.5,665.5 1747.75,667.5 1748.25,669.5 1748.75,671.5 1749,673.25 1749.5,675.25 1749.75,677.25 1750.25,679.25 1750.5,681.25 1751,683.25 1751.5,685.25 1751.75,687 1752.25,689 1752.5,691 1753,693 1753.25,695 1753.75,697 1754,698.75 1754.5,700.75 1754.75,702.75 1755.25,704.75 1755.5,706.75 1756,708.75 1756.25,710.75 1756.75,712.5 1757,714.5 1757.5,716.5 1757.75,718.5 1758.25,720.5 1758.5,722.5 1758.75,724.5 1759.25,726.5 1759.5,728.25 1760,730.25 1760.25,732.25 1760.75,734.25 1761,736.25 1761.25,738.25 1761.75,740.25 1762,742 1762.5,744 1762.75,746 1763,748 1763.5,750 1763.75,752 1764.25,754 1764.5,756 1764.75,757.75 1765.25,759.75 1765.5,761.75 1765.75,763.75 1766.25,765.75 1766.5,767.75 1766.75,769.75 1767.25,771.75 1767.5,773.75 1767.75,775.5 1768.25,777.5 1768.5,779.5 1768.75,781.5 1769.25,783.5 1769.5,785.5 1769.75,787.5 1770.25,789.5 1770.5,791.5 1770.75,793.25 1771.25,795.25 1771.5,797.25 1771.75,799.25 1772.25,801.25 1772.5,803.25 1772.75,805.25 1773,807.25 1773.5,809.25 1773.75,811 1774,813 1774.5,815 1774.75,817 1775,819 1775.25,821 1775.75,823 1776,825 1776.25,827 1776.5,829 1777,830.75 1777.25,832.75 1777.5,834.75 1777.75,836.75 1778.25,838.75 1778.5,840.75 1778.75,842.75 1779,844.75 1779.5,846.75 1779.75,848.75 1780,850.5 1780.25,852.5 1780.75,854.5 1781,856.5 1781.25,858.5 1781.5,860.5 1781.75,862.5 1782.25,864.5 1782.5,866.5 1782.75,868.5 1783,870.25 1783.5,872.25 1783.75,874.25 1784,876.25 1784.25,878.25 1784.5,880.25 1785,882.25 1785.25,884.25 1785.5,886.25 1785.75,888.25 1786,890.25 1786.25,892 1786.75,894 1787,896 1787.25,898 1787.5,900 1787.75,902 1788.25,904 1788.5,906 1788.75,908 1789,910 1789.25,912 1789.5,913.75 1790,915.75 1790.25,917.75 1790.5,919.75 1790.75,921.75 1791,923.75 1791.25,925.75 1791.75,927.75 1792,929.75 1792.25,931.75 1792.5,933.75 1792.75,935.5 1793,937.5 1793.25,939.5 1793.75,941.5 1794,943.5 1794.25,945.5 1794.5,947.5 1794.75,949.5 1795,951.5 1795.25,953.5 1795.75,955.5 1796,957.5 1796.25,959.25 1796.5,961.25 1796.75,963.25 1797,965.25 1797.25,967.25 1797.75,969.25 1798,971.25 1798.25,973.25 1798.5,975.25 1798.75,977.25 1799,979.25 1799.25,981.25 1799.5,983 1799.75,985 1800.25,987 1800.5,989 1800.75,991 1801,993 1801.25,995 1801.5,997 1801.75,999 1802,1001 1802.25,1003 1802.75,1005 1803,1007 1803.25,1008.75 1803.5,1010.75 1803.75,1012.75 1804,1014.75 1804.25,1016.75 1804.5,1018.75 1804.75,1020.75 1805,1022.75 1805.25,1024.75 1805.75,1026.75 1806,1028.75 1806.25,1030.75 1806.5,1032.75 1806.75,1034.5 1807,1036.5 1807.25,1038.5 1807.5,1040.5 1807.75,1042.5 1808,1044.5 1808.25,1046.5 1808.5,1048.5 1809,1050.5 1809.25,1052.5 1809.5,1054.5 1809.75,1056.5 1810,1058.5 1810.25,1060.25 1810.5,1062.25 1810.75,1064.25 1811,1066.25 1811.25,1068.25 1811.5,1070.25 1811.75,1072.25 1812,1074.25 1812.5,1076.25 1812.75,1078.25 1813,1080.25 1813.25,1082.25 1813.5,1084.25 1813.75,1086 1814,1088 1814.25,1090 1814.5,1092 1814.75,1094 1815,1096 1815.25,1098 1815.5,1100 1815.75,1102 1816,1104 1816.5,1106 1816.75,1108 1817,1110 1817.25,1112 1817.5,1113.75 1817.75,1115.75 1818,1117.75 1818.25,1119.75 1818.5,1121.75 1818.75,1123.75 1819,1125.75 1819.25,1127.75 1819.5,1129.75 1820,1131.75 1820.25,1133.75 1820.5,1135.75 1820.75,1137.75 1821,1139.5 1821.25,1141.5 1821.5,1143.5 1821.75,1145.5 1822,1147.5 1822.25,1149.5 1822.5,1151.5 1823,1153.5 1823.25,1155.5 1823.5,1157.5 1823.75,1159.5 1824,1161.5 1824.25,1163.5 1824.5,1165.25 1824.75,1167.25 1825.25,1169.25 1825.5,1171.25 1825.75,1173.25 1826,1175.25 1826.25,1177.25 1826.5,1179.25 1827,1181.25 1827.25,1183.25 1827.5,1185.25 1827.75,1187 1828,1189 1828.25,1191 1828.75,1193 1829,1195 1829.25,1197 1829.5,1199 1829.75,1201 1830.25,1203 1830.5,1205 1830.75,1207 1831,1208.75 1831.5,1210.75 1831.75,1212.75 1832,1214.75 1832.25,1216.75 1832.75,1218.75 1833,1220.75 1833.25,1222.75 1833.5,1224.75 1834,1226.5 1834.25,1228.5 1834.5,1230.5 1835,1232.5 1835.25,1234.5 1835.5,1236.5 1836,1238.5 1836.25,1240.5 1836.5,1242.5 1837,1244.25 1837.25,1246.25 1837.5,1248.25 1838,1250.25 1838.25,1252.25 1838.75,1254.25 1839,1256.25 1839.25,1258.25 1839.75,1260 1840,1262 1840.5,1264 1840.75,1266 1841.25,1268 1841.5,1270 1842,1272 1842.25,1273.75 1842.75,1275.75 1843,1277.75 1843.5,1279.75 1844,1281.75 1844.25,1283.75 1844.75,1285.5 1845.25,1287.5 1845.5,1289.5 1846,1291.5 1846.5,1293.5 1848,1294 1850,1294.25 1852,1294.25 1854,1294.5 1856,1294.75 1858,1295 1860,1295 1862,1295.25 1864,1295.5 1866,1295.75 1868,1295.75 1870,1296 1872,1296 1874,1296.25 1876,1296.25 1878,1296.25 1880,1296.5 1882,1296.5 1884,1296.5 1886,1296.5 1888,1296.75 1890,1296.75 1892,1296.75 1894,1297 1896,1297 1898,1297 1900,1297.25 1902,1297.25 1904,1297.25 1906,1297.5 1908,1297.5 1910,1297.5 1912,1297.5 1914,1297.75 1916,1297.75 1918,1297.75 1920,1298 1922,1298 1924,1298 1926,1298 1928,1298.25 1930,1298.25 1932,1298.25 1934,1298.25 1936,1298.25 1938,1298.5 1940,1298.5 1942,1298.5 1944,1298.5 1946,1298.75 1948,1298.75 1950,1298.75 1952,1298.75 1954,1299 1956,1299 1958,1299 1960,1299 1962,1299 1964,1299.25 1966,1299.25 1968,1299.25 1970,1299.25 1972,1299.5 1974,1299.5 1976,1299.5 1978,1299.5 1980,1299.5 1982,1299.75 1984,1299.75 1986,1299.75 1988,1299.75 1990,1300 1992,1300 1994,1300 1996,1300 1998,1300 2000,1300.25 2002,1300.25 2004,1300.25 2006,1300.25 2008,1300.5 2010,1300.5 2012,1300.5 2014,1300.5 2016,1300.5 2018,1300.75 2020,1300.75 2022,1300.75 2024,1300.75 2026,1301 2028,1301 2030,1301 2032,1301 2034,1301.25 2036,1301.25 2038,1301.25 2039.75,1301.25 2041.75,1301.5 2043.75,1301.5 2045.75,1301.5 2047.75,1301.5 2049.75,1301.75 2051.75,1301.75 2053.75,1301.75 2055.75,1301.75 2057.75,1302 2059.75,1302 2061.75,1302 2063.75,1302 2065.75,1302.25 2067.75,1302.25 2069.75,1302.25 2071.75,1302.25 2073.75,1302.25 2075.75,1302.25 2077.75,1302.25 2079.75,1302.25 2081.75,1302.25 2083.75,1302.25 2085.75,1302.25 2087.75,1302.25 2089.75,1302.25 2091.75,1302.25 2093.75,1302.25 2095.75,1302.25 2097.75,1302.25 2099.75,1302.25 2101.75,1302.25 2103.75,1302.25 2105.75,1302.25 2107.75,1302.25 2109.75,1302.25 2111.75,1302.5 2113.75,1302.5 2115.75,1302.5 2117.75,1302.5 2119.75,1302.5 2121.75,1302.5 2123.75,1302.75 2125.75,1302.75 2127.75,1302.75 2129.75,1302.75 2131.75,1302.75 2133.75,1302.75 2135.75,1303 2137.75,1303 2139.75,1303 2141.75,1303 2143.75,1303 2145.75,1303 2147.75,1303.25 2149.75,1303.25 2151.75,1303.25 2153.75,1303.25 2155.75,1303 2157.75,1303 2159.75,1303 2161.75,1303 2163.75,1303 2165.75,1303 2167.75,1302.75 2169.75,1302.75 2171.75,1302.75 2173.75,1302.75 2175.75,1302.75 2177.75,1302.75 2179.75,1302.5" fill="none" stroke="#0000ff" stroke-width="11.5" stroke-linejoin="round" marker-start="url(#mb)" marker-mid="url(#mb)" marker-end="url(#mb)"/>
<rect x="2117.1" y="1292.1" width="11.6" height="20" fill="#0000ff"/>
<rect x="259.00" y="28.00" width="1930.00" height="7.00" fill="#000"/>
<rect x="270.00" y="28.00" width="7.00" height="1431.00" fill="#000"/>
<rect x="245.00" y="1453.00" width="1942.00" height="6.00" fill="#000"/>
<rect x="245.00" y="138.00" width="26.00" height="6.00" fill="#000"/>
<rect x="245.00" y="357.16" width="26.00" height="6.00" fill="#000"/>
<rect x="245.00" y="576.33" width="26.00" height="6.00" fill="#000"/>
<rect x="245.00" y="795.50" width="26.00" height="6.00" fill="#000"/>
<rect x="245.00" y="1014.66" width="26.00" height="6.00" fill="#000"/>
<rect x="245.00" y="1233.83" width="26.00" height="6.00" fill="#000"/>
<rect x="259.00" y="247.58" width="12.00" height="6.00" fill="#000"/>
<rect x="259.00" y="466.75" width="12.00" height="6.00" fill="#000"/>
<rect x="259.00" y="685.91" width="12.00" height="6.00" fill="#000"/>
<rect x="259.00" y="905.08" width="12.00" height="6.00" fill="#000"/>
<rect x="259.00" y="1124.25" width="12.00" height="6.00" fill="#000"/>
<rect x="259.00" y="1343.41" width="12.00" height="6.00" fill="#000"/>
<rect x="609.40" y="1458.00" width="6.00" height="26.00" fill="#000"/>
<rect x="1003.80" y="1458.00" width="6.00" height="26.00" fill="#000"/>
<rect x="1398.20" y="1458.00" width="6.00" height="26.00" fill="#000"/>
<rect x="1792.60" y="1458.00" width="6.00" height="26.00" fill="#000"/>
<rect x="2187.00" y="1458.00" width="6.00" height="26.00" fill="#000"/>
<rect x="412.20" y="1458.00" width="6.00" height="12.50" fill="#000"/>
<rect x="806.60" y="1458.00" width="6.00" height="12.50" fill="#000"/>
<rect x="1201.00" y="1458.00" width="6.00" height="12.50" fill="#000"/>
<rect x="1595.40" y="1458.00" width="6.00" height="12.50" fill="#000"/>
<rect x="1989.80" y="1458.00" width="6.00" height="12.50" fill="#000"/>
<rect x="2187.00" y="31.00" width="6.00" height="1428.00" fill="#0000ff"/>
<rect x="2189.00" y="28.00" width="15.00" height="7.00" fill="#0000ff"/>
<rect x="2192.00" y="158.00" width="26.00" height="6.00" fill="#0000ff"/>
<rect x="2192.00" y="417.00" width="26.00" height="6.00" fill="#0000ff"/>
<rect x="2192.00" y="676.00" width="26.00" height="6.00" fill="#0000ff"/>
<rect x="2192.00" y="935.00" width="26.00" height="6.00" fill="#0000ff"/>
<rect x="2192.00" y="1194.00" width="26.00" height="6.00" fill="#0000ff"/>
<rect x="2192.00" y="1453.00" width="26.00" height="6.00" fill="#0000ff"/>
<rect x="2192.00" y="287.50" width="12.00" height="6.00" fill="#0000ff"/>
<rect x="2192.00" y="546.50" width="12.00" height="6.00" fill="#0000ff"/>
<rect x="2192.00" y="805.50" width="12.00" height="6.00" fill="#0000ff"/>
<rect x="2192.00" y="1064.50" width="12.00" height="6.00" fill="#0000ff"/>
<rect x="2192.00" y="1323.50" width="12.00" height="6.00" fill="#0000ff"/>
<g font-size="62" fill="#000" text-anchor="end">
<text x="227" y="157.4">2</text>
<text x="227" y="376.6">1</text>
<text x="227" y="595.7">0</text>
<text x="227" y="814.9">-1</text>
<text x="227" y="1034.1">-2</text>
<text x="227" y="1253.2">-3</text>
<text x="227" y="1472.4">-4</text>
</g>
<g font-size="62" fill="#000" text-anchor="middle">
<text x="612.4" y="1551">200</text>
<text x="1006.8" y="1551">400</text>
<text x="1401.2" y="1551">600</text>
<text x="1795.6" y="1551">800</text>
<text x="2190.0" y="1551">1000</text>
</g>
<g font-size="62" fill="#0000ff" text-anchor="start">
<text x="2237.3" y="177.6">100</text>
<text x="2237.3" y="436.6">90</text>
<text x="2237.3" y="695.6">80</text>
<text x="2237.3" y="954.6">70</text>
<text x="2237.3" y="1213.6">60</text>
<text x="2237.3" y="1472.6">50</text>
</g>
<text y="1685.3" font-size="85" fill="#000"><tspan x="896.8" letter-spacing="0.66">Temperature (</tspan><tspan x="1442" dy="5.3">°</tspan><tspan x="1474.6" dy="-5.3">C</tspan><tspan x="1540.3">)</tspan></text>
<text transform="translate(101.4 1126) rotate(-90)" font-size="85" fill="#000"><tspan letter-spacing="0.55">Heat flow (mW mg</tspan><tspan font-size="50" x="706" dy="-42.1">−</tspan><tspan font-size="50" x="734.2" dy="-4.6">1</tspan><tspan x="765.5" dy="46.7">)</tspan></text>
<text transform="translate(2395.7 409.7) rotate(90)" font-size="85" fill="#0000ff" letter-spacing="0.52">Weight loss (wt %)</text>
<text y="113.3" font-size="68.5" fill="#000"><tspan x="812.5">Endothermic</tspan><tspan x="1214.5">peak,</tspan><tspan x="1400">820.50</tspan><tspan x="1627.8" dy="5.3">°</tspan><tspan x="1652.2" dy="-5.3">C</tspan></text>
<text x="2046.4" y="97" font-size="68.5" fill="#000">Exo</text>
<g stroke="#000" fill="#000" stroke-linejoin="round">
<path d="M1719 126 L1779 185" stroke-width="8" fill="none"/>
<path d="M1803.35 208.9 L1772.9 190.9 L1784.9 178.8 Z" stroke-width="8"/>
<path d="M2107 129 V177" stroke-width="8" fill="none"/>
<path d="M2098.5 176.7 H2115.5 L2107 211 Z" stroke-width="8"/>
</g>
<rect x="336" y="1210" width="358" height="185" fill="#000"/>
<rect x="315.3" y="1189" width="358.2" height="184" fill="#fff" stroke="#000" stroke-width="2.2"/>
<g fill="#000">
<rect x="324.3" y="1236" width="53.5" height="2.4"/><rect x="436.4" y="1236" width="53.5" height="2.4"/>
<rect x="398" y="1227.7" width="12" height="12"/>
</g>
<g fill="#0000ff">
<rect x="324.3" y="1324.3" width="53.5" height="7.2"/><rect x="436.4" y="1324.3" width="53.5" height="7.2"/>
<rect x="398" y="1318.8" width="12" height="11.8"/>
</g>
<text x="509.2" y="1261.4" font-size="74" fill="#000">DSC</text>
<text x="510.6" y="1352.5" font-size="74" fill="#000">TGA</text>
</svg>
</body></html>
